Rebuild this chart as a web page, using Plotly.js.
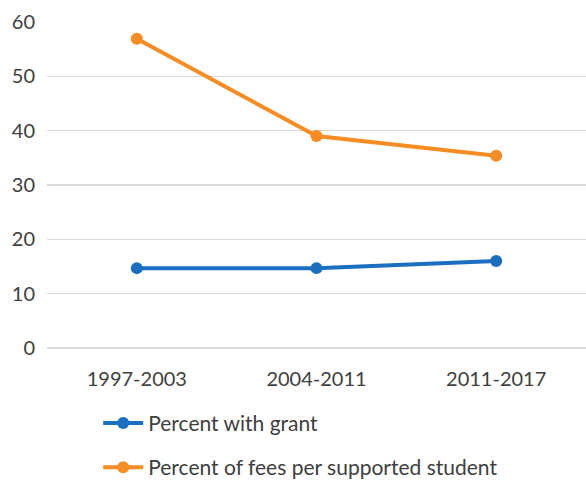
<!DOCTYPE html>
<html>
<head>
<meta charset="utf-8">
<script src="https://cdn.plot.ly/plotly-3.0.1.min.js"></script>
<style>
  html, body { margin: 0; padding: 0; background: #ffffff; }
  #chart { width: 586px; height: 481px; }
</style>
</head>
<body>
<div id="chart"></div>
<script>
// Periods on the x axis
const periods = ['1997-2003', '2004-2011', '2011-2017'];

// Series values (percent)
const percentWithGrant = [14.7, 14.7, 16.0];
const percentOfFees = [56.9, 39.0, 35.4];

// Series names
const nameGrant = 'Percent with grant';
const nameFees = 'Percent of fees per supported student';

// Y axis ticks
const yTicks = [0, 10, 20, 30, 40, 50, 60];

const textColor = '#404040';
const fontFamily = 'Lato, "Open Sans", "Liberation Sans", sans-serif';

const traces = [
  {
    x: periods,
    y: percentWithGrant,
    name: nameGrant,
    type: 'scatter',
    mode: 'lines+markers',
    line: { color: '#1a6fc0', width: 4 },
    marker: { color: '#1a6fc0', size: 12 },
    legendgroup: 'g1'
  },
  {
    x: periods,
    y: percentOfFees,
    name: nameFees,
    type: 'scatter',
    mode: 'lines+markers',
    line: { color: '#f58c24', width: 4 },
    marker: { color: '#f58c24', size: 12 },
    legendgroup: 'g2'
  }
];

const layout = {
  width: 586,
  height: 481,
  margin: { l: 47, r: 0, t: 22, b: 133 },
  paper_bgcolor: '#ffffff',
  plot_bgcolor: '#ffffff',
  font: { family: fontFamily, size: 20, color: textColor },
  showlegend: true,
  legend: {
    orientation: 'v',
    xref: 'paper',
    yref: 'container',
    x: 0.095,
    xanchor: 'left',
    y: 0.1626,
    yanchor: 'top',
    font: { family: fontFamily, size: 21, color: textColor },
    tracegroupgap: 14,
    itemwidth: 40,
    bgcolor: 'rgba(0,0,0,0)'
  },
  xaxis: {
    type: 'category',
    range: [-0.5, 2.5],
    showgrid: false,
    zeroline: false,
    showline: false,
    ticks: '',
    tickfont: { family: fontFamily, size: 20, color: textColor },
    ticklabelstandoff: 17
  },
  yaxis: {
    range: [0, 60],
    tickvals: yTicks,
    ticktext: yTicks.map(String),
    showgrid: true,
    gridcolor: '#d9d9d9',
    gridwidth: 1.5,
    zeroline: true,
    zerolinecolor: '#d9d9d9',
    zerolinewidth: 1.5,
    showline: false,
    ticks: '',
    tickfont: { family: fontFamily, size: 20, color: textColor },
    ticklabelstandoff: 11
  }
};

Plotly.newPlot('chart', traces, layout, { displayModeBar: false, staticPlot: true });
</script>
</body>
</html>
